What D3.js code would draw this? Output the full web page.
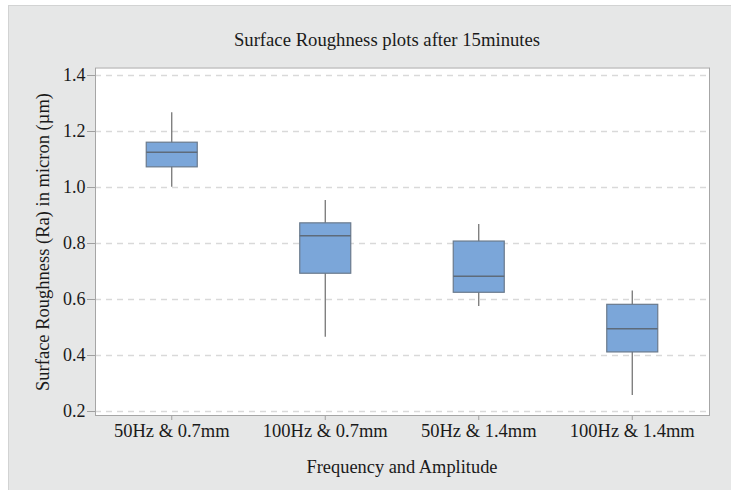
<!DOCTYPE html>
<html>
<head>
  <meta charset="utf-8">
  <script src="https://d3js.org/d3.v7.min.js"></script>
  <style>
    body { margin: 0; background: #fff; }
    text { font-family: "Liberation Serif", "Times New Roman", serif; fill: #1a1a1a; }
  </style>
</head>
<body>
<script>
  "use strict";

  // values
  var groups   = ["50Hz & 0.7mm", "100Hz & 0.7mm", "50Hz & 1.4mm", "100Hz & 1.4mm"];
  var whiskLo  = [1.001, 0.465, 0.575, 0.257];
  var q1       = [1.072, 0.692, 0.624, 0.411];
  var medians  = [1.124, 0.826, 0.681, 0.494];
  var q3       = [1.160, 0.872, 0.807, 0.581];
  var whiskHi  = [1.267, 0.954, 0.868, 0.630];
  var yTicks   = [0.2, 0.4, 0.6, 0.8, 1.0, 1.2, 1.4];

  var W = 731, H = 490;
  var plot = { left: 95, top: 67.5, right: 709, bottom: 415 };

  var svg = d3.select("body").append("svg")
      .attr("width", W).attr("height", H);

  // panel
  svg.append("rect").attr("x", 8.5).attr("y", 5.5).attr("width", W - 8).attr("height", H - 5)
      .attr("fill", "#e6e7e7").attr("stroke", "#d2d3d3");

  svg.append("rect").attr("x", plot.left).attr("y", plot.top)
      .attr("width", plot.right - plot.left).attr("height", plot.bottom - plot.top)
      .attr("fill", "#fff");

  var x = d3.scaleBand().domain(groups).range([plot.left, plot.right]);
  var y = d3.scaleLinear().domain([0.2 - 4 / 280, 1.4 + 7.5 / 280]).range([plot.bottom, plot.top]);

  // grid
  svg.append("g").selectAll("line").data(yTicks).join("line")
      .attr("x1", plot.left).attr("x2", plot.right)
      .attr("y1", function(d) { return Math.round(y(d)) + 0.5; })
      .attr("y2", function(d) { return Math.round(y(d)) + 0.5; })
      .attr("stroke", "#d9d9d9").attr("stroke-width", 1.5).attr("stroke-dasharray", "6,5");

  // axes
  var yAxis = svg.append("g").attr("transform", "translate(" + plot.left + ",0)")
      .call(d3.axisLeft(y).tickValues(yTicks).tickFormat(d3.format(".1f")).tickSize(8).tickPadding(1.5));
  var xAxis = svg.append("g").attr("transform", "translate(0," + plot.bottom + ")")
      .call(d3.axisBottom(x).tickSize(5).tickPadding(4));
  [yAxis, xAxis].forEach(function(a) {
    a.attr("font-family", null);
    a.select(".domain").remove();
    a.selectAll("line").attr("stroke", "#a0a0a0");
    a.selectAll("text").attr("fill", "#1a1a1a");
  });
  yAxis.selectAll("text").attr("font-size", 18);
  xAxis.selectAll("text").attr("font-size", 18.5);

  // frame
  svg.append("rect").attr("x", plot.left + 0.5).attr("y", plot.top + 0.5)
      .attr("width", plot.right - plot.left).attr("height", plot.bottom - plot.top)
      .attr("fill", "none").attr("stroke", "#a6a6a6");

  // boxes
  var bw = 51;
  var g = svg.append("g").selectAll("g").data(groups).join("g")
      .attr("transform", function(d) { return "translate(" + (x(d) + x.bandwidth() / 2) + ",0)"; });

  g.append("line").attr("x1", 0).attr("x2", 0)
      .attr("y1", function(d, i) { return y(whiskHi[i]); })
      .attr("y2", function(d, i) { return y(whiskLo[i]); })
      .attr("stroke", "#6b6b6b").attr("stroke-width", 1.2);

  g.append("rect").attr("x", -bw / 2).attr("width", bw)
      .attr("y", function(d, i) { return y(q3[i]); })
      .attr("height", function(d, i) { return y(q1[i]) - y(q3[i]); })
      .attr("fill", "#7ba6d9").attr("stroke", "#6a7a8c").attr("stroke-width", 1.2);

  g.append("line").attr("x1", -bw / 2).attr("x2", bw / 2)
      .attr("y1", function(d, i) { return y(medians[i]); })
      .attr("y2", function(d, i) { return y(medians[i]); })
      .attr("stroke", "#5e6b7a").attr("stroke-width", 1.5);

  // titles
  svg.append("text").attr("x", 387).attr("y", 46).attr("text-anchor", "middle")
      .attr("font-size", 18.7).text("Surface Roughness plots after 15minutes");
  svg.append("text").attr("x", 402).attr("y", 473).attr("text-anchor", "middle")
      .attr("font-size", 18.4).text("Frequency and Amplitude");
  svg.append("text").attr("transform", "translate(49,242) rotate(-90)").attr("text-anchor", "middle")
      .attr("font-size", 18.5).text("Surface Roughness (Ra) in micron (\u00b5m)");
</script>
</body>
</html>
